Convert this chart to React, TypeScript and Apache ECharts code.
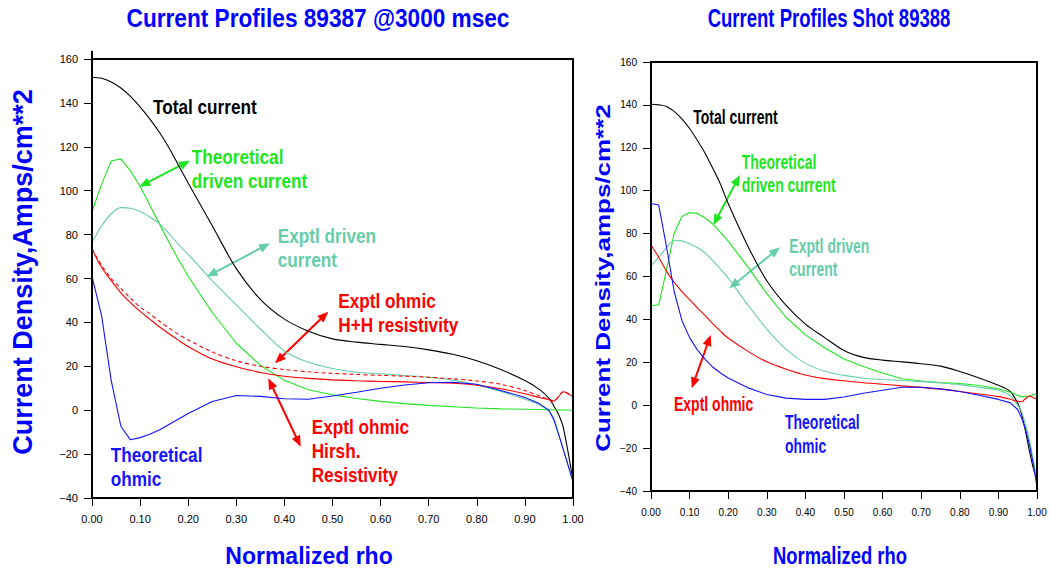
import React, { useEffect, useRef } from "react";
import * as echarts from "echarts";

// ---------- Data: left panel (shot 89387 @3000 msec) ----------
const rhoL = [0, 0.02, 0.04, 0.06, 0.08, 0.10, 0.12, 0.14, 0.16, 0.18, 0.20, 0.25, 0.30, 0.35, 0.40, 0.45, 0.50, 0.55, 0.60, 0.65, 0.70, 0.75, 0.80, 0.85, 0.90, 0.93, 0.95, 0.96, 0.97, 0.98, 1.00];
const totalL = [151.7, 151.2, 149.5, 146.8, 143, 138.2, 132.7, 126.6, 119.6, 111.5, 103.5, 84, 64.5, 50.5, 41.5, 36, 32.5, 31, 30, 29, 27.5, 25.5, 22.5, 18.5, 13.5, 9.5, 5.5, 2, -2, -8, -32];
const theoDrivenL = [90.5, 103, 113.5, 114.5, 109, 102, 93.5, 85, 76.5, 68.5, 61, 44.5, 30.5, 20.5, 13.6, 9.3, 7, 5.3, 4, 3, 2.2, 1.6, 1, 0.6, 0.4, 0.3, 0.2, 0.2, 0.1, 0.1, 0];
const exptDrivenL = [76.5, 84, 89.5, 92.3, 92, 90.5, 88, 85, 80.5, 75.5, 71, 59, 48, 37, 27, 21.8, 19, 17.3, 16.6, 15.8, 15, 13.7, 11.5, 8.5, 5, 2.5, -0.5, -3.5, -10.7, -18, -32.5];
const ohmicHirshL = [73.5, 65, 59, 53.5, 49, 45, 41.5, 38, 34.8, 31.8, 29, 23.3, 19.8, 17.2, 15.5, 14.5, 13.8, 13.4, 13.1, 12.9, 12.6, 12.3, 11.4, 9.8, 7.5, 5.8, 4.8, 4.1, 6.2, 8.4, 6.1];
const ohmicHHL = [73.5, 66, 60, 55.5, 51, 47, 44, 40.5, 37.5, 34.5, 32, 26.5, 22.5, 20, 18.5, 17.5, 16.8, 16.3, 15.9, 15.5, 15, 14.3, 13.3, 11.8, 9, 6.5, 4.8, 4.1, 6.2, 8.4, 6.1];
const theoOhmicL = [61, 43, 13.5, -7.3, -13.5, -12.5, -11, -9, -6.5, -4, -1.5, 4, 6.7, 6.3, 5.2, 5, 6.5, 8.2, 10, 11.5, 12.5, 12.7, 11.8, 9, 5.8, 3, 0, -4.3, -11, -18, -32.5];

// ---------- Data: right panel (shot 89388) ----------
const rhoR = [0, 0.02, 0.04, 0.06, 0.08, 0.10, 0.12, 0.14, 0.16, 0.18, 0.20, 0.25, 0.30, 0.35, 0.40, 0.45, 0.50, 0.55, 0.60, 0.65, 0.70, 0.75, 0.80, 0.85, 0.90, 0.93, 0.95, 0.96, 0.97, 0.98, 0.99, 1.00];
const totalR = [140.3, 140, 139.3, 137, 133.5, 129, 123.5, 117.5, 110.5, 103, 94, 74.5, 58, 46.5, 37.8, 31.5, 25.5, 22.3, 21, 20.2, 19.3, 18.2, 15.7, 12.7, 9.3, 6.5, 1, -4, -12, -21, -29, -35];
const theoDrivenR = [46.3, 46.8, 63, 80, 88, 89.8, 89.4, 87.3, 84.5, 80.6, 76.5, 64.7, 52, 41, 32.8, 26.8, 21.5, 18, 15, 12.3, 11.3, 10.6, 10.1, 9.2, 7.7, 6, 4.6, 4, 4.1, 4.3, 4.8, 5.6];
const exptDrivenR = [65, 69, 73.5, 76.8, 76.6, 75.3, 73.5, 71, 67.4, 63.5, 59.3, 47, 35.5, 26, 19.5, 15.8, 13.9, 12.6, 12, 11.5, 11, 10.4, 9.6, 8.3, 7, 4.5, 0, -3, -9, -16, -25, -36];
const exptOhmicR = [74.7, 69, 62.5, 57.3, 53, 49.2, 45.4, 41.9, 38, 34.5, 31.3, 25.2, 20.2, 16.8, 14.1, 12.4, 11.4, 10.5, 9.8, 9, 8.3, 7.5, 6.4, 5.2, 4, 2.8, 1.8, 1.6, 3, 4.3, 3.5, 2.8];
const theoOhmicR = [94, 93.3, 74, 53, 39.5, 31.5, 25.8, 21.5, 17.8, 15, 12.7, 8.2, 5, 3.3, 2.7, 2.7, 3.8, 5.6, 7, 8.4, 8.4, 7.6, 6.4, 4.6, 2.7, 1.2, -2, -6, -11, -18, -27, -38];

// ---------- Tick settings ----------
const xTicks = { min: 0, max: 1, interval: 0.1 };
const yTicks = { min: -40, max: 160, interval: 20 };

const C_BLACK = "#000000";
const C_GREEN = "#1ee61e";
const C_TEAL = "#66ccaa";
const C_RED = "#ff0000";
const C_BLUE = "#1414ff";
const C_TITLE = "#0000ff";
const FONT = '"Liberation Sans", Arial, Helvetica, sans-serif';
const NARROW = '"Liberation Sans Narrow", "Arial Narrow", "Liberation Sans", Arial, sans-serif';

// plot boxes (pixels)
const BOX_L = { left: 92, top: 59, width: 481, height: 439 };
const BOX_R = { left: 651, top: 62, width: 386, height: 429 };

const pairs = (xs: number[], ys: number[]) => xs.map((x, i) => [x, ys[i]]);

function txt(x: number, y: number, text: string, color: string, size: number, sx: number, lh: number, extra: any = {}) {
  return {
    type: "text",
    x,
    y,
    scaleX: sx,
    silent: true,
    ...extra,
    style: {
      text,
      fill: color,
      font: `bold ${size}px ${FONT}`,
      lineHeight: lh,
      align: extra.align || "left",
      verticalAlign: extra.verticalAlign || "top",
      textAlign: extra.align || "left",
      textVerticalAlign: extra.verticalAlign || "top",
    },
  };
}

function arrow(x1: number, y1: number, x2: number, y2: number, color: string) {
  const dx = x2 - x1, dy = y2 - y1;
  const L = Math.hypot(dx, dy);
  const ux = dx / L, uy = dy / L;
  const px = -uy, py = ux;
  const h = 11, w = 4.5;
  const head = (tx: number, ty: number, ex: number, ey: number) => ({
    type: "polygon",
    silent: true,
    shape: {
      points: [
        [tx, ty],
        [tx - ex * h + px * w, ty - ey * h + py * w],
        [tx - ex * h - px * w, ty - ey * h - py * w],
      ],
    },
    style: { fill: color },
  });
  return [
    {
      type: "line",
      silent: true,
      shape: { x1: x1 + ux * h * 0.7, y1: y1 + uy * h * 0.7, x2: x2 - ux * h * 0.7, y2: y2 - uy * h * 0.7 },
      style: { stroke: color, lineWidth: 2 },
    },
    head(x2, y2, ux, uy),
    head(x1, y1, -ux, -uy),
  ];
}

// frame drawn as four thin filled bars
function frameBars(b: { left: number; top: number; width: number; height: number }) {
  const t = 2;
  const bar = (x: number, y: number, w: number, h: number) => ({
    type: "rect",
    silent: true,
    z: 50,
    shape: { x, y, width: w, height: h },
    style: { fill: "#000000" },
  });
  return [
    bar(b.left - 1, b.top - 1, b.width + 2, t),
    bar(b.left - 1, b.top + b.height - 1, b.width + 2, t),
    bar(b.left - 1, b.top - 1, t, b.height + 2),
    bar(b.left + b.width - 1, b.top - 1, t, b.height + 2),
  ];
}

function makeX(gridIndex: number, fontFamily: string, fontSize: number, margin: number) {
  return {
    gridIndex,
    type: "value",
    position: "bottom",
    ...xTicks,
    axisLine: { show: true, onZero: false, lineStyle: { color: "#000", width: 2 } },
    axisTick: { show: true, length: 8, lineStyle: { color: "#000", width: 1 } },
    axisLabel: {
      margin,
      color: "#000",
      fontSize,
      fontFamily,
      formatter: (v: number) => v.toFixed(2),
    },
    splitLine: { show: false },
  };
}

function makeY(gridIndex: number, fontFamily: string, fontSize: number, margin: number) {
  return {
    gridIndex,
    type: "value",
    position: "left",
    ...yTicks,
    axisLine: { show: true, onZero: false, lineStyle: { color: "#000", width: 2 } },
    axisTick: { show: true, length: 8, lineStyle: { color: "#000", width: 1 } },
    axisLabel: {
      margin,
      color: "#000",
      fontSize,
      fontFamily,
      formatter: (v: number) => String(v).replace("-", "\u2212"),
    },
    splitLine: { show: false },
  };
}

function line(name: string, xs: number[], ys: number[], color: string, idx: number, smooth: number | boolean, dashed = false) {
  return {
    name,
    type: "line",
    xAxisIndex: idx,
    yAxisIndex: idx,
    data: pairs(xs, ys),
    showSymbol: false,
    symbol: "none",
    smooth,
    clip: true,
    lineStyle: { color, width: 1.1, type: dashed ? [4, 3] : "solid" },
    itemStyle: { color },
    z: 3,
  };
}

export default function App() {
  const ref = useRef<HTMLDivElement>(null);

  useEffect(() => {
    if (!ref.current) return;
    const chart = echarts.init(ref.current, undefined, { renderer: "svg" });

    const graphics: any[] = [
      ...frameBars(BOX_L),
      ...frameBars(BOX_R),
      // small axis extension above the left frame
      { type: "rect", silent: true, z: 50, shape: { x: BOX_L.left - 1, y: 51, width: 2, height: 9 }, style: { fill: "#000000" } },
      // titles
      txt(318, 18, "Current Profiles 89387 @3000 msec", C_TITLE, 26, 0.87, 30, { align: "center", verticalAlign: "middle" }),
      txt(829, 18, "Current Profiles Shot 89388", C_TITLE, 25, 0.74, 30, { align: "center", verticalAlign: "middle" }),
      // axis names
      txt(23, 272, "Current Density,Amps/cm**2", C_TITLE, 27, 1, 30, { align: "center", verticalAlign: "middle", rotation: Math.PI / 2 }),
      { ...txt(603, 278, "Current Density,amps/cm**2", C_TITLE, 26, 1, 30, { align: "center", verticalAlign: "middle", rotation: Math.PI / 2 }), scaleY: 0.76 },
      txt(309, 556, "Normalized rho", C_TITLE, 23, 1, 28, { align: "center", verticalAlign: "middle" }),
      txt(840, 556, "Normalized rho", C_TITLE, 23, 0.8, 28, { align: "center", verticalAlign: "middle" }),
      // left annotations
      txt(153, 94.7, "Total current", C_BLACK, 20, 0.86, 24),
      txt(191.7, 145.4, "Theoretical\ndriven current", C_GREEN, 20, 0.86, 24),
      txt(277.7, 224.7, "Exptl driven\ncurrent", C_TEAL, 20, 0.86, 23.5),
      txt(338.3, 288.7, "Exptl ohmic\nH+H resistivity", C_RED, 20, 0.86, 24),
      txt(311.7, 414.7, "Exptl ohmic\nHirsh.\nResistivity", C_RED, 20, 0.86, 24),
      txt(110.7, 442.7, "Theoretical\nohmic", C_BLUE, 20, 0.86, 24),
      // right annotations
      txt(693.3, 105.4, "Total current", C_BLACK, 20, 0.7, 23),
      txt(741.7, 151, "Theoretical\ndriven current", C_GREEN, 20, 0.7, 23),
      txt(789.3, 234.4, "Exptl driven\ncurrent", C_TEAL, 20, 0.7, 23),
      txt(674, 392.7, "Exptl ohmic", C_RED, 20, 0.7, 23),
      txt(785, 409.7, "Theoretical\nohmic", C_BLUE, 20, 0.7, 24),
      // arrows left
      ...arrow(139.3, 186.7, 190, 160.7, C_GREEN),
      ...arrow(206.7, 276.7, 270, 243.3, C_TEAL),
      ...arrow(275, 363.3, 328.3, 311.7, C_RED),
      ...arrow(268.3, 378.3, 300.7, 446.7, C_RED),
      // arrows right
      ...arrow(713.3, 225, 740, 175, C_GREEN),
      ...arrow(729.3, 288.3, 780, 247.3, C_TEAL),
      ...arrow(691.7, 388.3, 710.7, 335, C_RED),
    ];

    chart.setOption({
      animation: false,
      backgroundColor: "#ffffff",
      grid: [
        { ...BOX_L, show: false },
        { ...BOX_R, show: false },
      ],
      xAxis: [makeX(0, FONT, 11, 15), makeX(1, NARROW, 10, 16)],
      yAxis: [makeY(0, FONT, 11, 14), makeY(1, NARROW, 10, 14)],
      series: [
        line("Total current", rhoL, totalL, C_BLACK, 0, 0.3),
        line("Theoretical driven current", rhoL, theoDrivenL, C_GREEN, 0, false),
        line("Exptl driven current", rhoL, exptDrivenL, C_TEAL, 0, 0.3),
        line("Exptl ohmic Hirsh. Resistivity", rhoL, ohmicHirshL, C_RED, 0, 0.3),
        line("Exptl ohmic H+H resistivity", rhoL, ohmicHHL, C_RED, 0, 0.3, true),
        line("Theoretical ohmic", rhoL, theoOhmicL, C_BLUE, 0, false),
        line("Total current ", rhoR, totalR, C_BLACK, 1, 0.3),
        line("Theoretical driven current ", rhoR, theoDrivenR, C_GREEN, 1, false),
        line("Exptl driven current ", rhoR, exptDrivenR, C_TEAL, 1, 0.3),
        line("Exptl ohmic", rhoR, exptOhmicR, C_RED, 1, 0.3),
        line("Theoretical ohmic ", rhoR, theoOhmicR, C_BLUE, 1, false),
      ],
      graphic: graphics,
    });

    return () => chart.dispose();
  }, []);

  return (
    <div
      ref={ref}
      style={{ position: "absolute", left: 0, top: 0, width: 1050, height: 572, background: "#fff" }}
    />
  );
}
